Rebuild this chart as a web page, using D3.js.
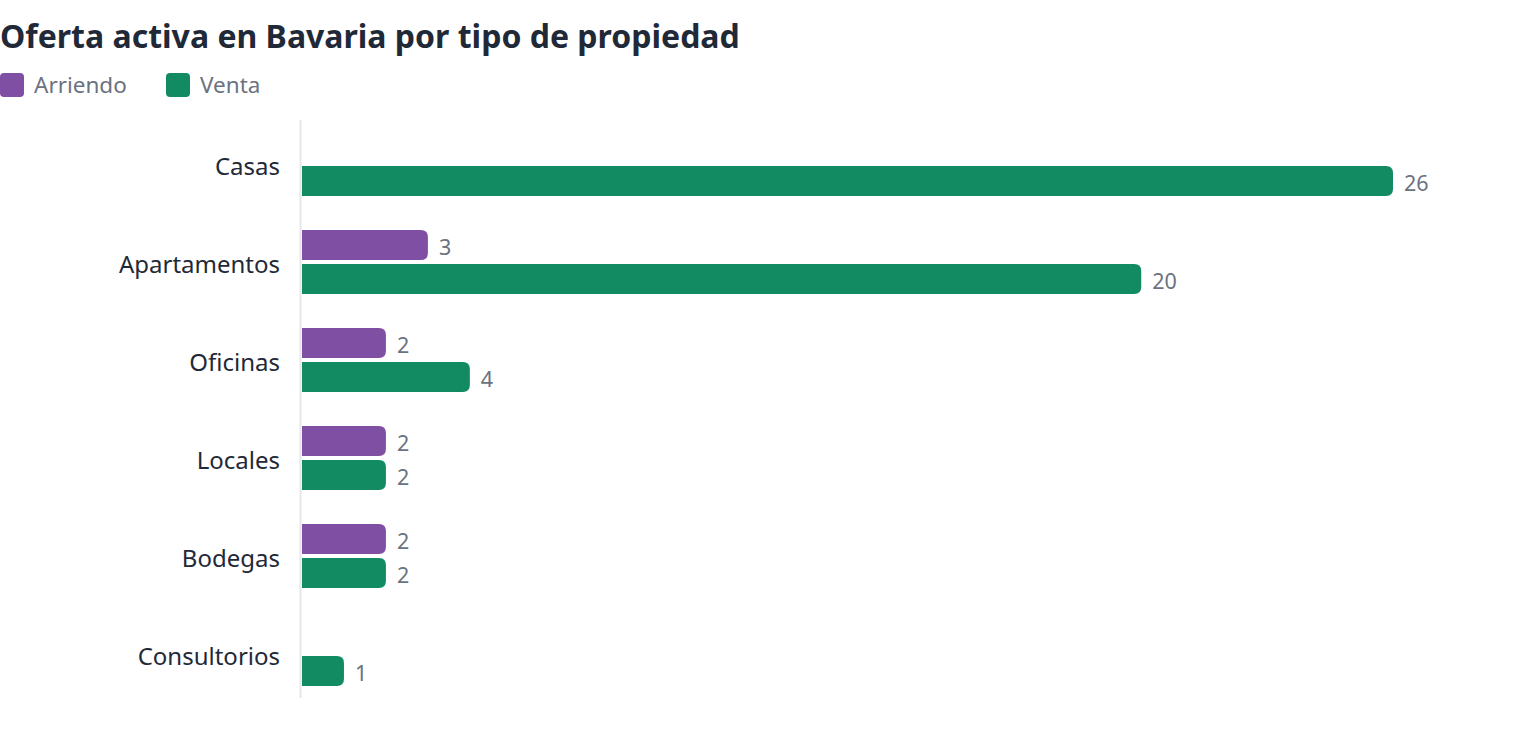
<!DOCTYPE html>
<html>
<head>
<meta charset="utf-8">
<script src="https://cdn.jsdelivr.net/npm/d3@7"></script>
<style>
	body { margin: 0; background: #fff; }
	svg { display: block; font-family: "Segoe UI", "Noto Sans", sans-serif; }
</style>
</head>
<body>
<svg id="chart" width="1520" height="740"></svg>
<script>
let categories = ['Casas', 'Apartamentos', 'Oficinas', 'Locales', 'Bodegas', 'Consultorios'];
let seriesNames = ['Arriendo', 'Venta'];
let arriendo = [0, 3, 2, 2, 2, 0];
let venta = [26, 20, 4, 2, 2, 1];
let colors = ['#7f4fa3', '#128a62'];

let svg = d3.select('#chart');

let left = 302;
let x = d3.scaleLinear().domain([0, 26]).range([left, 1393]);
let y = d3.scaleBand().domain(categories).range([115, 703]);

// title
svg.append('text')
	.attr('x', 0)
	.attr('y', 48)
	.attr('fill', '#1f2937')
	.style('font-size', '32px')
	.style('font-weight', 700)
	.text('Oferta activa en Bavaria por tipo de propiedad');

// legend
let legendX = [0, 166];
seriesNames.forEach((name, i) => {
	let g = svg.append('g').attr('transform', 'translate(' + legendX[i] + ', 73)');
	g.append('rect')
		.attr('width', 24)
		.attr('height', 24)
		.attr('rx', 4)
		.attr('fill', colors[i]);
	g.append('text')
		.attr('x', 34)
		.attr('y', 12)
		.attr('dy', '0.35em')
		.attr('fill', '#6b7280')
		.style('font-size', '22.5px')
		.text(name);
});

// axis line
svg.append('line')
	.attr('x1', 300.5).attr('x2', 300.5)
	.attr('y1', 120).attr('y2', 698)
	.attr('stroke', '#e5e7eb')
	.attr('stroke-width', 2);

// category labels
let yAxis = d3.axisLeft(y).tickSize(0).tickPadding(0);
let axisG = svg.append('g')
	.attr('transform', 'translate(280, 3)')
	.call(yAxis);
axisG.select('.domain').remove();
axisG.selectAll('text')
	.attr('fill', '#1f2937')
	.style('font-size', '24px')
	.style('font-family', '"Segoe UI", "Noto Sans", sans-serif');

let barH = 30;
let gap = 4;

function barPath(x0, x1, y0, h, r) {
	let w = x1 - x0;
	r = Math.min(r, w / 2, h / 2);
	return 'M' + x0 + ',' + y0 +
		'H' + (x1 - r) +
		'Q' + x1 + ',' + y0 + ' ' + x1 + ',' + (y0 + r) +
		'V' + (y0 + h - r) +
		'Q' + x1 + ',' + (y0 + h) + ' ' + (x1 - r) + ',' + (y0 + h) +
		'H' + x0 + 'Z';
}

let series = [arriendo, venta];
series.forEach((vals, s) => {
	let rows = categories.map((c, i) => ({ cat: c, v: vals[i] })).filter(d => d.v > 0);
	let yOff = d => y(d.cat) + y.bandwidth() / 2 + (s === 0 ? -gap / 2 - barH : gap / 2);

	svg.append('g')
		.selectAll('path')
		.data(rows)
		.enter()
		.append('path')
		.attr('d', d => barPath(x(0), x(d.v), yOff(d), barH, 7))
		.attr('fill', colors[s]);

	svg.append('g')
		.selectAll('text')
		.data(rows)
		.enter()
		.append('text')
		.attr('x', d => x(d.v) + 11)
		.attr('y', d => yOff(d) + barH / 2 + 2)
		.attr('dy', '0.35em')
		.attr('fill', '#6b7280')
		.style('font-size', '21.5px')
		.text(d => d.v);
});
</script>
</body>
</html>
